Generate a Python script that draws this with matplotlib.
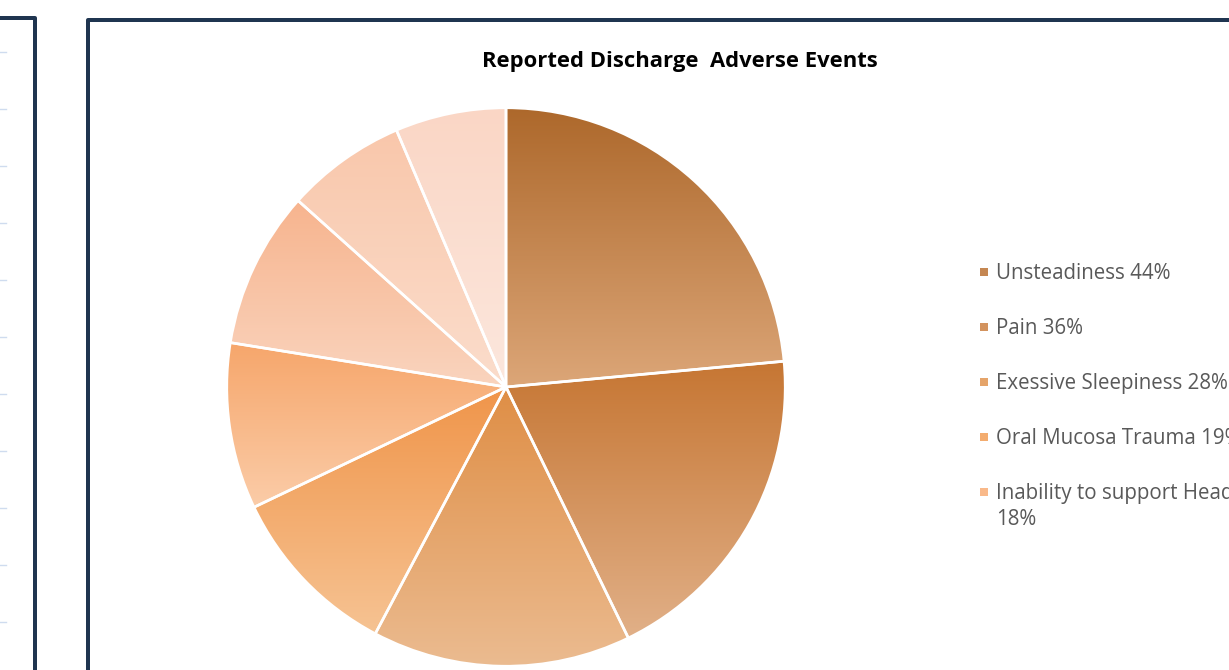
import textwrap

import numpy as np
import matplotlib
matplotlib.use("Agg")
import matplotlib.pyplot as plt
from matplotlib.colors import to_rgb
from matplotlib.patches import Rectangle

W, H = 1229, 670
my_dpi = 100

title = "Reported Discharge  Adverse Events"
labels = ["Unsteadiness", "Pain", "Exessive Sleepiness",
          "Oral Mucosa Trauma", "Inability to support Head"]
values = [44, 36, 28, 19, 18, 17, 13, 12]

# top / bottom colour of the vertical gradient in each slice
grad_top = ["#ad682b", "#c67633", "#df8e45", "#f0954a",
            "#f6a66b", "#f7b48e", "#f9c7ab", "#fad6c5"]
grad_bot = ["#dca678", "#e1b088", "#ebbb90", "#f6c393",
            "#fbcca8", "#fad4be", "#fbddcc", "#fce7dd"]

frame_col = "#1f3550"
text_grey = "#595959"

plt.rcParams["font.family"] = ["Open Sans", "DejaVu Sans"]

fig = plt.figure(figsize=(W / my_dpi, H / my_dpi), dpi=my_dpi)
bg = fig.add_axes([0, 0, 1, 1])
bg.set_xlim(0, W)
bg.set_ylim(H, 0)
bg.axis("off")

# frames of the two chart boxes
lw = 4 * 72 / my_dpi
bg.plot([0, 35, 35], [18, 18, H + 5], color=frame_col, lw=lw,
        solid_joinstyle="round", solid_capstyle="butt")
bg.plot([88, 88, W + 5], [H + 5, 19.5, 19.5], color=frame_col, lw=lw,
        solid_joinstyle="round", solid_capstyle="butt")
# gridline stubs of the left chart
for yy in np.arange(51.5, H, 57):
    bg.plot([0, 6], [yy, yy], color="#cfdcef", lw=1.0)

bg.text(680, 62, title, ha="center", va="center", fontsize=15.8,
        fontweight="bold", color="black")

# pie
cx, cy, r = 506, 387, 282
ax = fig.add_axes([(cx - r) / W, (H - cy - r) / H, 2 * r / W, 2 * r / H])
wedges, _ = ax.pie(values, startangle=90, counterclock=False, radius=1,
                   wedgeprops=dict(facecolor="none", edgecolor="white",
                                   linewidth=1.9))
for i, w in enumerate(wedges):
    w.set_zorder(3)
    ext = w.get_path().get_extents()
    t = np.linspace(0, 1, 256)[:, None]
    c0, c1 = np.array(to_rgb(grad_top[i])), np.array(to_rgb(grad_bot[i]))
    img = (1 - t)[..., None] * c0 + t[..., None] * c1
    img = np.repeat(img, 2, axis=1)
    im = ax.imshow(img, extent=[ext.x0, ext.x1, ext.y0, ext.y1],
                   origin="upper", interpolation="bilinear", zorder=1,
                   aspect="auto")
    im.set_clip_path(w)
ax.set_xlim(-1.01, 1.01)
ax.set_ylim(-1.01, 1.01)
ax.set_aspect("equal")
ax.axis("off")

# legend (only the first entries fit in the box)
for i, name in enumerate(labels):
    y = 272 + 55 * i
    mid = 0.5 * (np.array(to_rgb(grad_top[i])) + np.array(to_rgb(grad_bot[i])))
    bg.add_patch(Rectangle((980, y - 4), 7.5, 7.5, facecolor=mid,
                           edgecolor="none"))
    lab = textwrap.fill(f"{name} {values[i]}%", 26)
    bg.text(996, y - 9, lab, ha="left", va="top", fontsize=14.8,
            color=text_grey, linespacing=1.3)

fig.savefig("out.png", dpi=my_dpi)
